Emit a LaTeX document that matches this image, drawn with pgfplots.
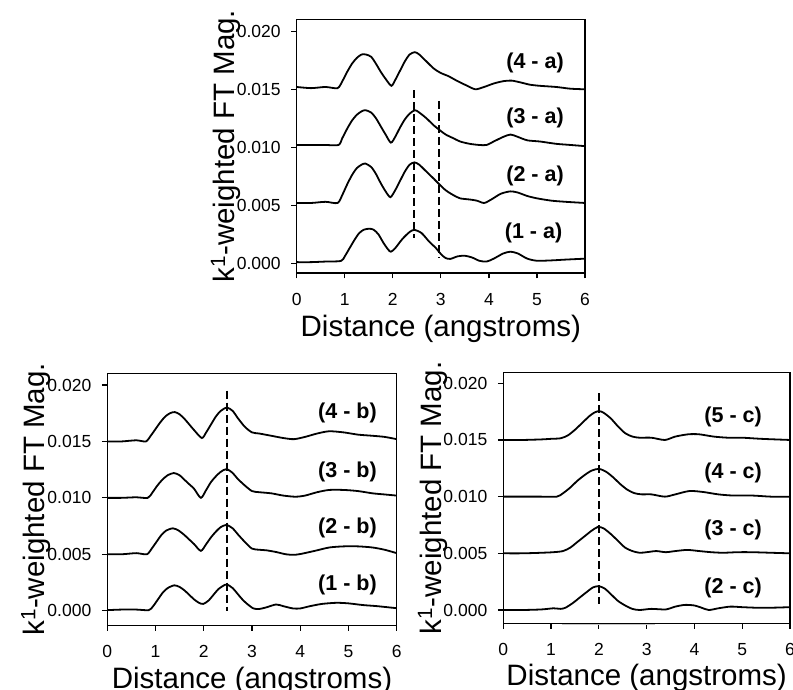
\documentclass[border=0pt]{standalone}
\usepackage{fontspec}
\setmainfont{Liberation Sans}
\usepackage{pgfplots}
\pgfplotsset{compat=1.18}
\newcommand{\ticksize}{\fontsize{17.5}{20}\selectfont}
\newcommand{\labsize}{\fontsize{29.5}{33}\selectfont}
\newcommand{\tagsize}{\fontsize{21.5}{24}\selectfont\bfseries}
\pgfplotsset{
  ftstyle/.style={
    scale only axis,
    anchor=south west,
    xmin=0, xmax=6,
    xtick={0,1,2,3,4,5,6},
    ytick={0,0.005,0.010,0.015,0.020},
    scaled y ticks=false,
    yticklabel style={/pgf/number format/fixed,/pgf/number format/fixed zerofill,/pgf/number format/precision=3, xshift=-7pt},
    xticklabel style={yshift=-11pt},
    /pgf/number format/assume math mode=true,
    tick label style={font=\ticksize},
    xtick pos=bottom, ytick pos=left,
    tick align=outside,
    major tick length=5.5pt,
    tick style={black, line width=1.2pt},
    axis line style={line width=1.4pt},
    label style={font=\labsize},
    xlabel={Distance (angstroms)},
    ylabel={k\textsuperscript{1}-weighted FT Mag.},
    ylabel style={at={(axis description cs:-0.247,0.5)}, anchor=center},
    clip=false,
  },
  curve/.style={black, line width=1.8pt, no marks, smooth, tension=0.45},
  vdash/.style={black, no marks, dash pattern=on 8pt off 4pt, line width=1.8pt},
}
\begin{document}
\begin{tikzpicture}[x=1pt,y=1pt]
\useasboundingbox (0,0) rectangle (793,689);
% ---------------- top panel ----------------
\begin{axis}[ftstyle, at={(296.7pt,416pt)}, width=288.3pt, height=253.7pt,
  ymin=-0.000836, ymax=0.021034,
  xlabel style={at={(axis description cs:0.5,-0.252)}, anchor=base}]
\addplot[curve] coordinates {
(0,0.0001) (0.3,0.0001) (0.6,0.00015) (0.92,0.0002) (1.0,0.0006) (1.1,0.0013) (1.2,0.0020) (1.3,0.0026) (1.4,0.0029) (1.51,0.00298) (1.6,0.0029) (1.7,0.0025) (1.8,0.0018) (1.9,0.0012) (1.96,0.0010) (2.05,0.0013) (2.2,0.0021) (2.35,0.0027) (2.45,0.00288) (2.6,0.0026) (2.75,0.0019) (2.9,0.0013) (3.0,0.0008) (3.1,0.00045) (3.2,0.00038) (3.35,0.0006) (3.5,0.00065) (3.65,0.0005) (3.8,0.00022) (3.95,0.00015) (4.1,0.0004) (4.3,0.00085) (4.45,0.001) (4.6,0.00085) (4.8,0.0004) (5.0,0.00022) (5.3,0.00025) (5.6,0.00032) (6.0,0.0004)};
\addplot[curve] coordinates {
(0,0.0052) (0.3,0.0052) (0.6,0.0053) (0.85,0.0052) (0.95,0.0059) (1.05,0.0068) (1.15,0.0076) (1.25,0.0082) (1.35,0.0085) (1.43,0.0086) (1.55,0.0083) (1.65,0.0077) (1.75,0.0069) (1.85,0.0062) (1.95,0.0057) (2.05,0.0063) (2.15,0.0071) (2.25,0.0079) (2.35,0.0085) (2.45,0.0087) (2.55,0.0085) (2.7,0.0079) (2.85,0.0073) (2.97,0.0068) (3.1,0.0063) (3.25,0.0059) (3.4,0.0056) (3.6,0.0055) (3.75,0.0054) (3.9,0.0052) (4.05,0.0055) (4.25,0.0060) (4.45,0.0062) (4.6,0.0061) (4.8,0.0058) (5.0,0.0056) (5.3,0.0054) (5.6,0.0053) (6.0,0.0052)};
\addplot[curve] coordinates {
(0,0.0102) (0.3,0.0102) (0.6,0.0102) (0.87,0.0102) (0.95,0.0108) (1.05,0.0116) (1.15,0.0123) (1.25,0.0128) (1.35,0.0131) (1.43,0.0132) (1.55,0.0130) (1.65,0.0125) (1.75,0.0118) (1.85,0.0111) (1.96,0.0104) (2.05,0.0109) (2.15,0.0117) (2.25,0.0124) (2.35,0.0129) (2.46,0.0132) (2.55,0.0130) (2.7,0.0125) (2.85,0.0119) (2.97,0.0115) (3.1,0.0111) (3.25,0.0108) (3.4,0.0105) (3.6,0.0103) (3.8,0.0102) (3.95,0.0102) (4.1,0.0105) (4.3,0.0109) (4.45,0.0111) (4.6,0.0109) (4.8,0.0106) (5.06,0.0105) (5.4,0.0103) (5.7,0.0102) (6.0,0.0101)};
\addplot[curve] coordinates {
(0,0.0152) (0.3,0.0151) (0.6,0.0152) (0.85,0.0151) (0.95,0.0157) (1.05,0.0165) (1.15,0.0172) (1.25,0.0177) (1.35,0.0180) (1.44,0.0180) (1.55,0.0178) (1.65,0.0172) (1.75,0.0165) (1.85,0.0159) (1.97,0.0153) (2.05,0.0158) (2.15,0.0166) (2.25,0.0174) (2.35,0.0180) (2.46,0.0182) (2.55,0.0180) (2.7,0.0174) (2.85,0.0168) (3.0,0.0164) (3.15,0.01615) (3.35,0.0157) (3.55,0.0153) (3.72,0.0150) (3.9,0.0152) (4.1,0.0155) (4.3,0.0157) (4.47,0.01575) (4.65,0.0156) (4.85,0.0154) (5.06,0.0153) (5.4,0.0152) (5.7,0.01505) (6.0,0.0150)};
\addplot[vdash] coordinates {(2.447,0.0149) (2.447,0.00215)};
\addplot[vdash] coordinates {(2.968,0.0140) (2.968,0.00043)};
\node[font=\tagsize] at (axis cs:4.96,0.01724) {(4 - a)};
\node[font=\tagsize] at (axis cs:4.96,0.0125) {(3 - a)};
\node[font=\tagsize] at (axis cs:4.96,0.00753) {(2 - a)};
\node[font=\tagsize] at (axis cs:4.93,0.00259) {(1 - a)};
\end{axis}
% ---------------- bottom left ----------------
\begin{axis}[ftstyle, at={(107.3pt,63.7pt)}, width=289.4pt, height=252pt,
  ymin=-0.001294, ymax=0.021036,
  xlabel style={at={(axis description cs:0.5,-0.249)}, anchor=base}]
\addplot[curve] coordinates {
(0,0.00005) (0.3,0.0001) (0.6,0.0001) (0.86,0.00005) (0.95,0.0004) (1.05,0.0010) (1.15,0.0016) (1.25,0.0020) (1.39,0.00225) (1.5,0.0021) (1.6,0.0018) (1.7,0.0014) (1.8,0.0010) (1.9,0.0007) (1.99,0.0006) (2.1,0.0009) (2.2,0.0014) (2.3,0.0019) (2.4,0.0022) (2.48,0.00232) (2.6,0.0020) (2.7,0.0015) (2.8,0.0010) (2.9,0.0006) (3.03,0.0002) (3.15,0.00015) (3.3,0.0003) (3.5,0.00055) (3.65,0.0004) (3.85,0.0002) (4.0,0.0002) (4.2,0.0004) (4.45,0.0006) (4.75,0.0007) (5.0,0.00065) (5.3,0.0005) (5.6,0.0004) (6.0,0.00022)};
\addplot[curve] coordinates {
(0,0.0050) (0.3,0.0050) (0.6,0.0051) (0.82,0.0050) (0.92,0.0055) (1.02,0.0061) (1.12,0.0067) (1.22,0.0071) (1.36,0.0073) (1.48,0.0071) (1.6,0.0067) (1.7,0.0063) (1.8,0.0059) (1.94,0.0053) (2.05,0.0059) (2.15,0.0065) (2.25,0.0070) (2.35,0.0074) (2.47,0.0076) (2.6,0.0073) (2.7,0.0068) (2.85,0.0061) (3.0,0.0055) (3.15,0.0054) (3.3,0.00535) (3.5,0.0052) (3.7,0.0050) (3.86,0.00495) (4.0,0.00502) (4.3,0.0053) (4.6,0.0056) (4.9,0.0057) (5.2,0.0057) (5.5,0.0056) (5.75,0.0054) (6.0,0.0051)};
\addplot[curve] coordinates {
(0,0.0100) (0.3,0.0100) (0.6,0.01005) (0.84,0.0100) (0.94,0.0105) (1.04,0.0111) (1.14,0.0116) (1.25,0.0120) (1.38,0.0122) (1.5,0.0120) (1.6,0.0116) (1.7,0.0112) (1.8,0.0108) (1.94,0.0100) (2.05,0.0107) (2.15,0.0114) (2.25,0.0119) (2.35,0.0123) (2.47,0.01255) (2.6,0.0122) (2.7,0.0117) (2.85,0.0111) (3.0,0.0106) (3.15,0.0105) (3.4,0.0104) (3.65,0.0102) (3.9,0.0101) (4.1,0.0102) (4.35,0.0105) (4.6,0.0107) (4.9,0.0107) (5.2,0.0106) (5.5,0.0104) (5.75,0.0103) (6.0,0.0102)};
\addplot[curve] coordinates {
(0,0.0150) (0.3,0.0150) (0.6,0.0151) (0.8,0.0150) (0.9,0.0155) (1.0,0.0161) (1.1,0.0167) (1.2,0.0172) (1.3,0.0175) (1.4,0.0176) (1.5,0.0174) (1.6,0.0170) (1.7,0.0165) (1.8,0.0160) (1.96,0.0153) (2.05,0.0158) (2.15,0.0165) (2.25,0.0172) (2.35,0.0177) (2.48,0.0180) (2.6,0.0177) (2.7,0.0171) (2.85,0.0163) (3.0,0.0158) (3.15,0.0157) (3.4,0.0155) (3.65,0.0153) (3.87,0.0152) (4.1,0.0154) (4.35,0.0157) (4.6,0.0159) (4.9,0.0158) (5.2,0.0156) (5.5,0.0155) (5.75,0.0154) (6.0,0.0152)};
\addplot[vdash] coordinates {(2.475,0.0195) (2.475,0.0000)};
\node[font=\tagsize] at (axis cs:4.98,0.01749) {(4 - b)};
\node[font=\tagsize] at (axis cs:4.98,0.01232) {(3 - b)};
\node[font=\tagsize] at (axis cs:4.98,0.0073) {(2 - b)};
\node[font=\tagsize] at (axis cs:4.98,0.00228) {(1 - b)};
\end{axis}
% ---------------- bottom right ----------------
\begin{axis}[ftstyle, at={(503.3pt,65.7pt)}, width=286.7pt, height=251pt,
  ymin=-0.001173, ymax=0.02097,
  xlabel style={at={(axis description cs:0.5,-0.246)}, anchor=base}]
\draw[gray!45, line width=1.2pt] (axis cs:1.22,-0.00128) -- (axis cs:3.17,-0.00128);
\addplot[curve] coordinates {
(0,0.0) (0.4,0.0) (0.8,0.00005) (1.05,0.00015) (1.2,0.0001) (1.3,0.0002) (1.45,0.0006) (1.6,0.0011) (1.75,0.0016) (1.88,0.0020) (2.0,0.0021) (2.12,0.0019) (2.25,0.0014) (2.4,0.0008) (2.55,0.0004) (2.7,0.0001) (2.85,0.0) (3.1,0.0001) (3.4,0.00005) (3.6,0.0003) (3.8,0.00045) (4.0,0.0004) (4.15,0.0002) (4.3,0.0) (4.5,0.00015) (4.75,0.0003) (5.0,0.00025) (5.3,0.0002) (5.6,0.0002) (6.0,0.00025)};
\addplot[curve] coordinates {
(0,0.0050) (0.4,0.0050) (0.8,0.00505) (1.05,0.0051) (1.25,0.0052) (1.4,0.0055) (1.55,0.0060) (1.7,0.0065) (1.85,0.0070) (1.98,0.00733) (2.1,0.0072) (2.25,0.0067) (2.4,0.0061) (2.55,0.0055) (2.7,0.0052) (2.85,0.00505) (3.0,0.0051) (3.2,0.0052) (3.4,0.0051) (3.6,0.0052) (3.85,0.0053) (4.1,0.0052) (4.35,0.0051) (4.6,0.00505) (4.9,0.0051) (5.2,0.0051) (5.6,0.00505) (6.0,0.0050)};
\addplot[curve] coordinates {
(0,0.0100) (0.4,0.0100) (0.8,0.0100) (1.12,0.0100) (1.25,0.0103) (1.4,0.0108) (1.55,0.0114) (1.7,0.0119) (1.85,0.0123) (2.0,0.01245) (2.15,0.0122) (2.3,0.0117) (2.45,0.0111) (2.6,0.0106) (2.75,0.0103) (2.9,0.0102) (3.1,0.0102) (3.38,0.0100) (3.6,0.0102) (3.9,0.0105) (4.2,0.0104) (4.5,0.0102) (4.8,0.0101) (5.2,0.0101) (5.6,0.0100) (6.0,0.0100)};
\addplot[curve] coordinates {
(0,0.0150) (0.4,0.0150) (0.8,0.01505) (1.0,0.0151) (1.2,0.01515) (1.35,0.0154) (1.5,0.0159) (1.65,0.0165) (1.8,0.0171) (1.9,0.0174) (2.0,0.01755) (2.1,0.0174) (2.25,0.0169) (2.4,0.0162) (2.55,0.0156) (2.7,0.0153) (2.85,0.0152) (3.1,0.0152) (3.38,0.0150) (3.6,0.0153) (3.87,0.0155) (4.1,0.0155) (4.4,0.0153) (4.7,0.0152) (5.0,0.0152) (5.4,0.0151) (6.0,0.0150)};
\addplot[vdash] coordinates {(2.0,0.0191) (2.0,0.00056)};
\node[font=\tagsize] at (axis cs:4.81,0.01705) {(5 - c)};
\node[font=\tagsize] at (axis cs:4.81,0.01206) {(4 - c)};
\node[font=\tagsize] at (axis cs:4.81,0.00706) {(3 - c)};
\node[font=\tagsize] at (axis cs:4.81,0.00191) {(2 - c)};
\end{axis}
\end{tikzpicture}
\end{document}
